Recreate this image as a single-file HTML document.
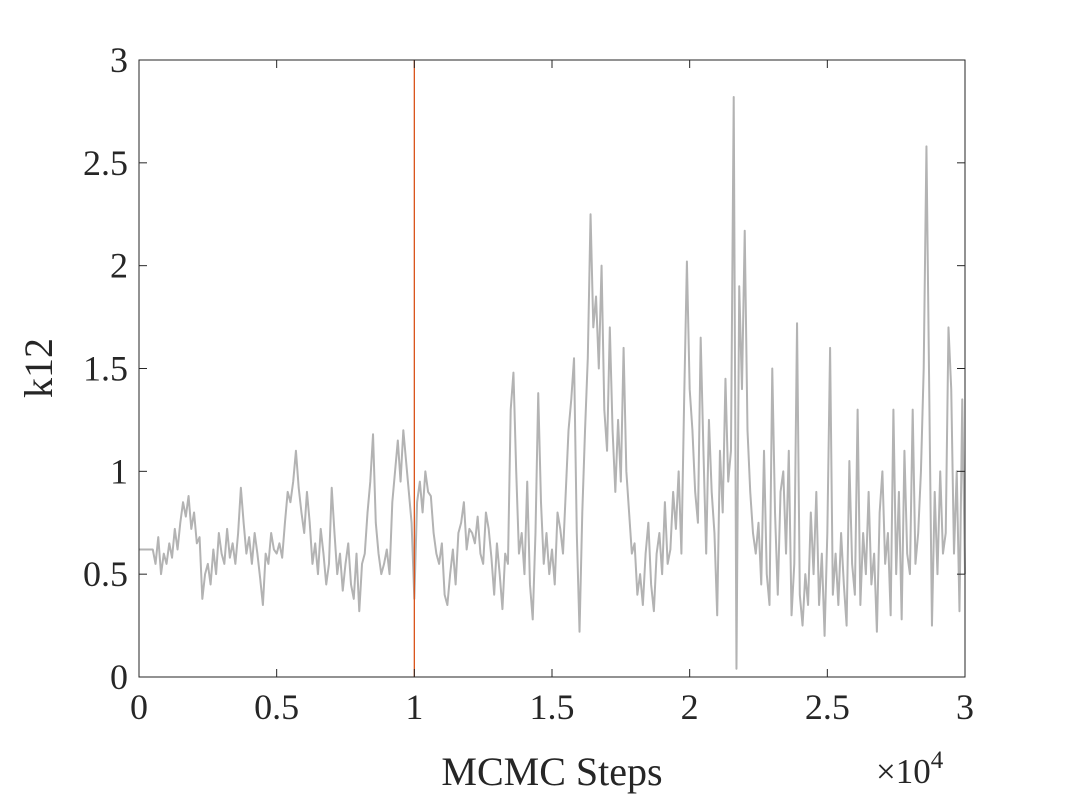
<!DOCTYPE html>
<html><head><meta charset="utf-8"><style>
body{margin:0;background:#fff;}
svg{display:block;font-family:"Liberation Serif",serif;}
</style></head><body>
<svg id="chart" width="1067" height="800" viewBox="0 0 1067 800">
<rect x="0" y="0" width="1067" height="800" fill="#fff"/>
<g id="plot"></g>
<g id="axes"></g>
</svg>
<script>
const stepSize = 100;
const traceValues = [
0.62,0.62,0.62,0.62,0.62,0.62,
0.55,0.68,0.5,0.6,0.55,0.65,0.58,0.72,0.62,0.75,
0.85,0.78,0.88,0.72,0.8,0.65,0.68,0.38,0.5,0.55,
0.45,0.62,0.5,0.7,0.6,0.55,0.72,0.58,0.65,0.55,
0.7,0.92,0.75,0.6,0.68,0.55,0.7,0.6,0.48,0.35,
0.6,0.55,0.7,0.62,0.6,0.65,0.58,0.75,0.9,0.85,
0.95,1.1,0.92,0.8,0.7,0.9,0.75,0.55,0.65,0.5,
0.72,0.6,0.45,0.55,0.92,0.7,0.5,0.6,0.42,0.55,
0.65,0.45,0.38,0.6,0.32,0.55,0.6,0.8,0.95,1.18,
0.75,0.6,0.5,0.55,0.62,0.5,0.85,1.0,1.15,0.95,
1.2,1.05,0.9,0.75,0.38,0.85,0.95,0.8,1.0,0.9,
0.88,0.7,0.6,0.55,0.65,0.4,0.35,0.5,0.62,0.45,
0.7,0.75,0.85,0.62,0.72,0.7,0.65,0.78,0.6,0.55,
0.8,0.72,0.58,0.4,0.65,0.5,0.33,0.6,0.55,1.3,
1.48,1.0,0.6,0.7,0.5,0.95,0.45,0.28,0.7,1.38,
0.85,0.55,0.7,0.5,0.62,0.45,0.8,0.72,0.6,0.9,
1.2,1.35,1.55,0.7,0.22,0.8,1.2,1.55,2.25,1.7,
1.85,1.5,2.0,1.3,1.1,1.7,1.2,0.9,1.25,0.95,
1.6,1.0,0.8,0.6,0.65,0.4,0.5,0.35,0.6,0.75,
0.45,0.32,0.6,0.7,0.5,0.85,0.55,0.62,0.9,0.72,
1.0,0.6,1.35,2.02,1.4,1.2,0.9,0.75,1.65,1.1,
0.6,1.25,0.9,0.7,0.3,1.1,0.8,1.45,0.95,1.1,
2.82,0.04,1.9,1.4,2.17,1.2,0.9,0.7,0.6,0.75,
0.45,1.1,0.5,0.35,1.5,0.8,0.4,0.9,1.0,0.6,
1.1,0.3,0.55,1.72,0.4,0.25,0.5,0.35,0.8,0.5,
0.9,0.35,0.6,0.2,0.7,1.6,0.4,0.6,0.35,0.7,
0.45,0.25,1.05,0.55,0.4,1.3,0.35,0.7,0.5,0.9,
0.45,0.6,0.22,0.8,1.0,0.55,0.7,0.3,1.3,0.5,
0.9,0.28,1.1,0.6,0.5,1.3,0.55,0.7,1.0,1.5,
2.58,1.4,0.25,0.9,0.5,1.0,0.6,0.7,1.7,1.4,
0.6,1.0,0.32,1.35,0.5
];
const burnIn = 10000;
const xTicks = [0,5000,10000,15000,20000,25000,30000];
const xTickLabels = ["0","0.5","1","1.5","2","2.5","3"];
const yTicks = [0,0.5,1,1.5,2,2.5,3];
const yTickLabels = ["0","0.5","1","1.5","2","2.5","3"];

const L=139,R=965,T=60,B=677;
const xMax=30000,yMax=3;
const X=v=>L+(R-L)*v/xMax;
const Y=v=>B-(B-T)*v/yMax;
const NS="http://www.w3.org/2000/svg";
function mk(tag,attrs,parent){const e=document.createElementNS(NS,tag);for(const k in attrs)e.setAttribute(k,attrs[k]);parent.appendChild(e);return e;}
const plot=document.getElementById('plot'),axes=document.getElementById('axes');

let d='';
traceValues.forEach((v,i)=>{d+=(i?'L':'M')+X(i*stepSize).toFixed(2)+','+Y(v).toFixed(2);});
const trace=mk('path',{d:d,fill:'none',stroke:'#b3b3b3','stroke-width':2,'stroke-linejoin':'round'},plot);



const bl=mk('line',{x1:X(burnIn),x2:X(burnIn),y1:T,y2:B,stroke:'#d95319','stroke-width':1.3},plot);



const box=mk('rect',{x:L,y:T,width:R-L,height:B-T,fill:'none',stroke:'#262626','stroke-width':1},axes);



xTicks.forEach((t,i)=>{
  const x=X(t);
  mk('line',{x1:x,x2:x,y1:B,y2:B-8,stroke:'#262626'},axes);
  mk('line',{x1:x,x2:x,y1:T,y2:T+8,stroke:'#262626'},axes);
  const tx=mk('text',{x:x,y:B+42,'text-anchor':'middle','font-size':36,fill:'#262626'},axes);
  tx.textContent=xTickLabels[i];
  
  
});
yTicks.forEach((t,i)=>{
  const y=Y(t);
  mk('line',{x1:L,x2:L+8,y1:y,y2:y,stroke:'#262626'},axes);
  mk('line',{x1:R,x2:R-8,y1:y,y2:y,stroke:'#262626'},axes);
  const tx=mk('text',{x:L-11,y:y+12,'text-anchor':'end','font-size':36,fill:'#262626'},axes);
  tx.textContent=yTickLabels[i];
  
  
});
const xl=mk('text',{x:552,y:785,'text-anchor':'middle','font-size':40,fill:'#262626'},axes);
xl.textContent='MCMC Steps';


const yl=mk('text',{x:0,y:0,'text-anchor':'middle','font-size':40,fill:'#262626',transform:'translate(52,368) rotate(-90)'},axes);
yl.textContent='k12';


const ex=mk('text',{x:876,y:783,'font-size':35,fill:'#262626'},axes);
ex.innerHTML='×10<tspan dy="-15" font-size="25">4</tspan>';


</script>
</body></html>
